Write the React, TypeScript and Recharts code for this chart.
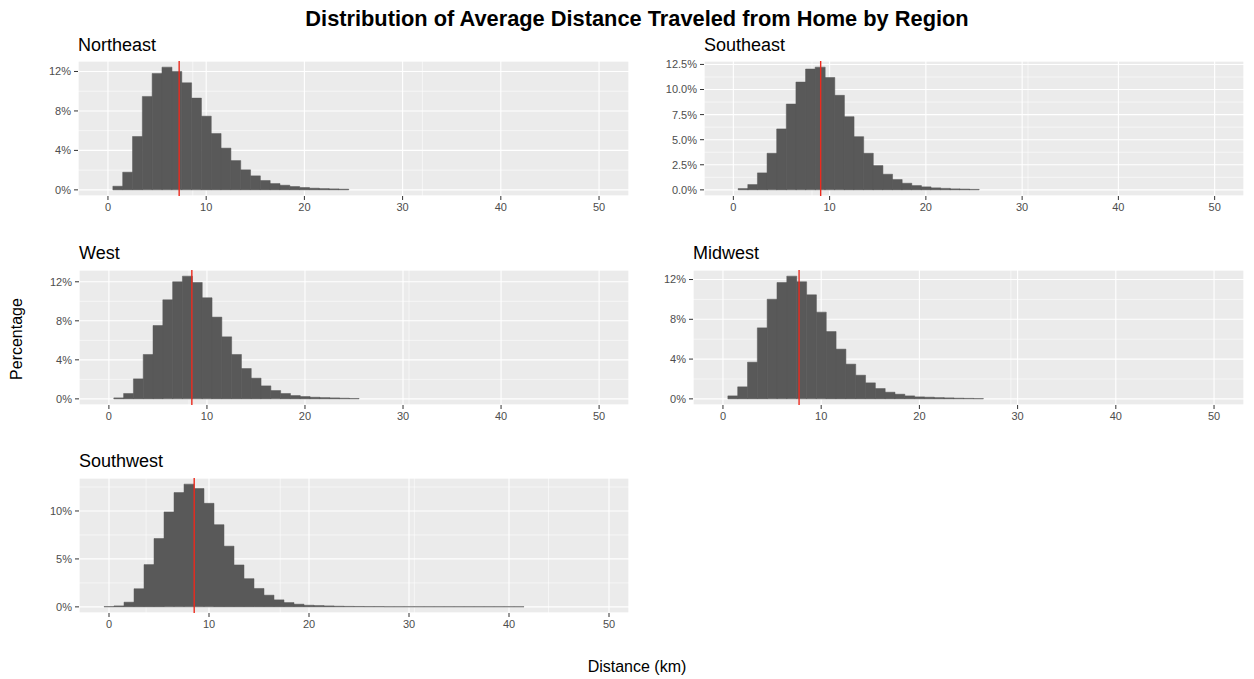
import React from 'react';
import { ComposedChart, Bar, XAxis, YAxis, CartesianGrid, ReferenceLine } from 'recharts';

// Bin centres (km); each histogram bin is 1 km wide
const distanceKm = [
  0, 1, 2, 3, 4, 5, 6, 7, 8, 9, 10, 11, 12, 13, 14, 15, 16, 17, 18, 19, 20,
  21, 22, 23, 24, 25, 26, 27, 28, 29, 30, 31, 32, 33, 34, 35, 36, 37, 38, 39, 40, 41,
];

// Share of trips (%) per distance bin, by region
const northeastPct = [
  0, 0.37, 1.79, 5.41, 9.47, 11.8, 12.44, 12.0, 10.85, 9.3, 7.47, 5.71, 4.23, 2.97, 2.03,
  1.42, 0.95, 0.64, 0.47, 0.34, 0.24, 0.17, 0.13, 0.1, 0.07,
];
const southeastPct = [
  0, 0.13, 0.53, 1.69, 3.65, 6.07, 8.55, 10.74, 12.04, 12.23, 11.2, 9.42, 7.29, 5.3, 3.65,
  2.42, 1.56, 1.03, 0.66, 0.43, 0.3, 0.2, 0.15, 0.1, 0.08, 0.05,
];
const westPct = [
  0, 0.1, 0.55, 2.05, 4.55, 7.52, 10.15, 12.0, 12.58, 11.93, 10.36, 8.38, 6.36, 4.55, 3.11,
  2.12, 1.33, 0.85, 0.55, 0.34, 0.24, 0.17, 0.13, 0.1, 0.07, 0.04,
];
const midwestPct = [
  0, 0.3, 1.21, 3.69, 7.14, 10.02, 11.7, 12.34, 11.77, 10.46, 8.72, 6.77, 5.0, 3.49, 2.38,
  1.61, 1.04, 0.67, 0.47, 0.3, 0.2, 0.17, 0.13, 0.1, 0.07, 0.05, 0.03,
];
const southwestPct = [
  0.03, 0.1, 0.49, 1.89, 4.41, 7.13, 9.9, 11.92, 12.8, 12.34, 10.8, 8.57, 6.33, 4.37, 2.94,
  1.92, 1.22, 0.73, 0.45, 0.28, 0.17, 0.14, 0.1, 0.07, 0.05, 0.04, 0.03, 0.03, 0.02, 0.02,
  0.02, 0.02, 0.02, 0.02, 0.02, 0.02, 0.02, 0.02, 0.02, 0.02, 0.02, 0.02,
];

// Mean distance per region (km)
const northeastMean = 7.25;
const southeastMean = 9.07;
const westMean = 8.46;
const midwestMean = 7.75;
const southwestMean = 8.52;

// Axis breaks
const xTicksKm = [0, 10, 20, 30, 40, 50];
const xMinorKm = [5, 15, 25, 35, 45];
const pctTicks4 = [0, 4, 8, 12];
const pctMinor4 = [2, 6, 10];
const pctTicks25 = [0, 2.5, 5, 7.5, 10, 12.5];
const pctMinor25 = [1.25, 3.75, 6.25, 8.75, 11.25];
const pctTicks5 = [0, 5, 10];
const pctMinor5 = [2.5, 7.5, 12.5];

// Range covered by the bins (km)
const binRangeKm = [-0.5, 50.5];
const southwestBinRangeKm = [-0.5, 49.5];

const FONT = '"Liberation Sans", Arial, Helvetica, sans-serif';
const BAR_FILL = '#595959';
const MEAN_COLOR = '#EC2A1E';
const PANEL_BG = '#EBEBEB';
const TICK_TEXT = '#4D4D4D';
const TICK_LINE = '#333333';
const Y_AXIS_W = 60;
const X_AXIS_H = 25;
const TOP_PAD = 12;

const expand = (lo: number, hi: number): [number, number] => {
  const pad = (hi - lo) * 0.05;
  return [lo - pad, hi + pad];
};

type Panel = {
  title: string;
  values: number[];
  mean: number;
  yTicks: number[];
  yMinor: number[];
  decimals: number;
  binRange: number[];
  box: { left: number; top: number; width: number; height: number; titleBaseline: number };
};

const panels: Panel[] = [
  {
    title: 'Northeast', values: northeastPct, mean: northeastMean, yTicks: pctTicks4, yMinor: pctMinor4,
    decimals: 0, binRange: binRangeKm, box: { left: 78, top: 61, width: 551, height: 135, titleBaseline: 51 },
  },
  {
    title: 'Southeast', values: southeastPct, mean: southeastMean, yTicks: pctTicks25, yMinor: pctMinor25,
    decimals: 1, binRange: binRangeKm, box: { left: 704, top: 61, width: 540, height: 135, titleBaseline: 51 },
  },
  {
    title: 'West', values: westPct, mean: westMean, yTicks: pctTicks4, yMinor: pctMinor4,
    decimals: 0, binRange: binRangeKm, box: { left: 79, top: 270, width: 550, height: 135, titleBaseline: 258.5 },
  },
  {
    title: 'Midwest', values: midwestPct, mean: midwestMean, yTicks: pctTicks4, yMinor: pctMinor4,
    decimals: 0, binRange: binRangeKm, box: { left: 693, top: 270, width: 551, height: 135, titleBaseline: 258.5 },
  },
  {
    title: 'Southwest', values: southwestPct, mean: southwestMean, yTicks: pctTicks5, yMinor: pctMinor5,
    decimals: 0, binRange: southwestBinRangeKm, box: { left: 79, top: 478, width: 550, height: 135, titleBaseline: 467 },
  },
];

function HistogramPanel({ p }: { p: Panel }) {
  const data = p.values.map((v, i) => ({ km: distanceKm[i], pct: v }));
  const yDomain = expand(0, Math.max(...p.values));
  const xDomain = expand(p.binRange[0], p.binRange[1]);
  const fmt = (v: number) => `${v.toFixed(p.decimals)}%`;
  const tickStyle = { fontSize: 11, fill: TICK_TEXT, fontFamily: FONT };
  const w = p.box.width + Y_AXIS_W;
  const h = p.box.height + X_AXIS_H + TOP_PAD;
  return (
    <div style={{ position: 'absolute', left: p.box.left - Y_AXIS_W, top: p.box.top - TOP_PAD, width: w, height: h }}>
      <ComposedChart
        width={w}
        height={h}
        data={data}
        margin={{ top: TOP_PAD, right: 0, bottom: 0, left: 0 }}
        barCategoryGap={0}
        barGap={0}
      >
        {/* minor breaks live on hidden axes so the grid can draw them */}
        <XAxis xAxisId="minor" type="number" domain={xDomain} ticks={xMinorKm} allowDataOverflow hide />
        <YAxis yAxisId="minor" type="number" domain={yDomain} ticks={p.yMinor} allowDataOverflow hide />
        <CartesianGrid xAxisId="minor" yAxisId="minor" fill={PANEL_BG} fillOpacity={1} stroke="#FFFFFF" strokeWidth={0.55} />
        <CartesianGrid stroke="#FFFFFF" strokeWidth={1.1} />
        <XAxis
          type="number"
          dataKey="km"
          domain={xDomain}
          ticks={xTicksKm}
          allowDataOverflow
          interval={0}
          height={X_AXIS_H}
          axisLine={false}
          tickSize={4}
          tickMargin={3}
          tickLine={{ stroke: TICK_LINE, strokeWidth: 1 }}
          tick={tickStyle}
        />
        <YAxis
          type="number"
          domain={yDomain}
          ticks={p.yTicks}
          allowDataOverflow
          interval={0}
          width={Y_AXIS_W}
          axisLine={false}
          tickSize={4}
          tickMargin={3}
          tickLine={{ stroke: TICK_LINE, strokeWidth: 1 }}
          tick={tickStyle}
          tickFormatter={fmt}
        />
        <Bar dataKey="pct" fill={BAR_FILL} stroke={BAR_FILL} strokeWidth={0.5} isAnimationActive={false} />
        <ReferenceLine x={p.mean} stroke={MEAN_COLOR} strokeWidth={1.4} />
      </ComposedChart>
    </div>
  );
}

export default function App() {
  return (
    <div
      style={{
        position: 'absolute',
        left: 0,
        top: 0,
        width: 1254,
        height: 679,
        background: '#FFFFFF',
        fontFamily: FONT,
        overflow: 'hidden',
      }}
    >
      {panels.map((p) => (
        <HistogramPanel key={p.title} p={p} />
      ))}
      <svg
        width={1254}
        height={679}
        style={{ position: 'absolute', left: 0, top: 0, pointerEvents: 'none' }}
        fontFamily={FONT}
      >
        <text x={637} y={26} textAnchor="middle" fontSize={21.8} fontWeight="bold" fill="#000">
          Distribution of Average Distance Traveled from Home by Region
        </text>
        {panels.map((p) => (
          <text key={p.title} x={p.box.left} y={p.box.titleBaseline} fontSize={18} fill="#000">
            {p.title}
          </text>
        ))}
        <text x={637} y={671.5} textAnchor="middle" fontSize={16} fill="#000">
          Distance (km)
        </text>
        <text transform="translate(21.5, 339) rotate(-90)" textAnchor="middle" fontSize={16} fill="#000">
          Percentage
        </text>
      </svg>
    </div>
  );
}
